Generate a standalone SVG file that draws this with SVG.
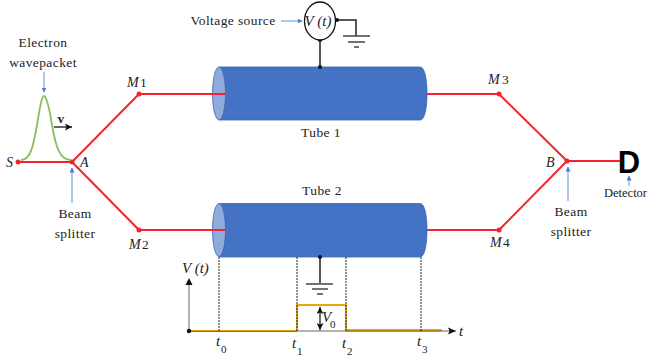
<svg xmlns="http://www.w3.org/2000/svg" width="651" height="364" viewBox="0 0 651 364">
<style>
text{font-family:"Liberation Serif","Times New Roman",serif;font-size:13.5px;fill:#222;letter-spacing:.4px}
.m{text-anchor:middle}
.i{font-style:italic;font-size:14px;letter-spacing:0}
.n{font-size:13.5px;letter-spacing:0}
.vt{font-style:italic;font-size:15px;letter-spacing:0}
.s{font-size:11px;letter-spacing:0}
.r{stroke:#f5222d;stroke-width:2;fill:none}
.d{fill:#f5222d}
.b{stroke:#222;stroke-width:1.5;fill:none}
.k{fill:#111}
.g{stroke:#444;stroke-width:1.3;fill:none}
.bl{stroke:#6f9bdc;stroke-width:1.100;fill:none}
.v{stroke:#222;stroke-width:1;stroke-dasharray:2 1;fill:none}
.body{fill:#4472c4;stroke:#3a64ad;stroke-width:.8}
.cap{fill:#8faadc;stroke:#3a64ad;stroke-width:.8}
</style>
<defs>
<marker id="ab" markerWidth="5" markerHeight="5" refX="4.500" refY="2.500" orient="auto" markerUnits="userSpaceOnUse"><path d="M0,0L5,2.500L0,5z" fill="#4a7ccf"/></marker>
<marker id="ak" markerWidth="8" markerHeight="7" refX="7" refY="3.500" orient="auto-start-reverse" markerUnits="userSpaceOnUse"><path d="M0,0L7,3.500L0,7L1.500,3.500z" fill="#111"/></marker>
</defs>
<g id="tube1"><path class="body" d="M219,67H420C425,67 427,80 427,93.500S425,120 420,120H219z"/><ellipse class="cap" cx="219" cy="93.500" rx="6.500" ry="26.500"/></g>
<g id="tube2"><path class="body" d="M219,203.500H420C425,203.500 427,217 427,230S425,257 420,257H219z"/><ellipse class="cap" cx="219" cy="230" rx="6.500" ry="26.500"/></g>
<g id="connectors">
<path class="r" d="M18,162H72L139,94H225M427,94H499L567,161L499,230H427M225,230H139L72,162M567,161H620"/>
<circle class="d" cx="18" cy="162" r="2.500"/><circle class="d" cx="72" cy="162" r="2.500"/><circle class="d" cx="139" cy="94" r="2.500"/><circle class="d" cx="139" cy="230" r="2.500"/><circle class="d" cx="499" cy="94" r="2.500"/><circle class="d" cx="499" cy="230" r="2.500"/><circle class="d" cx="567" cy="161" r="2.500"/>
<path d="M21,160C30,160 33,148 37,125C40,106 42,96 44,96C46,96 49,106 52,125C56,148 60,160 71,160" fill="none" stroke="#8dbb5f" stroke-width="1.800"/>
<path d="M54,127H72" stroke="#111" stroke-width="1.300" fill="none" marker-end="url(#ak)"/>
<path class="bl" d="M44,72V92" marker-end="url(#ab)"/>
<path class="bl" d="M72,203V168" marker-end="url(#ab)"/>
<path class="bl" d="M568,201V167" marker-end="url(#ab)"/>
<path class="bl" d="M629,186V176" marker-end="url(#ab)"/>
<path class="bl" d="M281,21H302" marker-end="url(#ab)"/>
<path class="b" d="M337,20H356V36M320,40V67"/>
<path class="g" d="M343,36H370M348,42H365M354,47H359"/>
<circle class="k" cx="337" cy="20" r="2"/><circle class="k" cx="320" cy="40" r="2"/><circle class="k" cx="320" cy="67" r="2"/>
<path class="b" d="M320,257V283"/><circle class="k" cx="320" cy="257" r="2"/>
<path class="g" d="M306,284H333M312,289H328M317,294H323"/>
<path d="M189,331H456" stroke="#999" stroke-width="1.500" fill="none"/>
<path d="M189,331V281" stroke="#999" stroke-width="1.500" fill="none"/>
<path d="M189,278l-3.500,7h7z" class="k"/>
<path d="M456,331l-8,-3.500l1.500,3.500l-1.500,3.500z" class="k"/>
<path d="M190,331H297V305H346V330H442" stroke="#e8a80c" stroke-width="2" fill="none"/>
<path d="M190,331.500H297M346,331H442" stroke="#8a6d1a" stroke-width="1" fill="none"/>
<path class="v" d="M219,257V331M297,257V331M346,257V331M421,257V331"/>
<circle class="k" cx="189" cy="331" r="2.200"/>
<path d="M320,307V330" stroke="#111" stroke-width="1.200" fill="none" marker-start="url(#ak)" marker-end="url(#ak)"/>
</g>
<g id="source"><ellipse cx="320" cy="21" rx="15.500" ry="19" fill="#fff" stroke="#111" stroke-width="1.300"/>
<text x="318" y="26" class="m vt">V (t)</text></g>
<g id="labels">
<text x="233" y="25" class="m">Voltage source</text>
<text x="43" y="47" class="m">Electron</text><text x="43" y="67" class="m">wavepacket</text>
<text x="61" y="123" class="m" style="font-weight:bold">v</text>
<text x="6" y="167" class="i">S</text><text x="80" y="167" class="i">A</text>
<text x="75" y="218" class="m">Beam</text><text x="75" y="238" class="m">splitter</text>
<text x="127" y="87" class="i">M</text><text x="140" y="87" class="n">1</text>
<text x="129" y="249" class="i">M</text><text x="142" y="249" class="n">2</text>
<text x="488" y="84" class="i">M</text><text x="502" y="84" class="n">3</text>
<text x="490" y="247" class="i">M</text><text x="503" y="247" class="n">4</text>
<text x="546" y="167" class="i">B</text>
<text x="321" y="137" class="m">Tube 1</text><text x="322" y="195" class="m">Tube 2</text>
<text x="571" y="216" class="m">Beam</text><text x="571" y="236" class="m">splitter</text>
<text x="604" y="197" style="font-size:12.500px;letter-spacing:0">Detector</text>
<text x="629" y="173" class="m" style="font-family:'Liberation Sans',sans-serif;font-weight:bold;font-size:31px;fill:#000;letter-spacing:0">D</text>
<text x="182" y="273" class="vt">V (t)</text>
<text x="322" y="322" class="vt">V</text><text x="330" y="328" class="s">0</text>
<text x="459" y="336" class="vt">t</text>
<text x="216" y="346" class="vt">t</text><text x="221" y="353" class="s">0</text>
<text x="292" y="348" class="vt">t</text><text x="297" y="355" class="s">1</text>
<text x="342" y="348" class="vt">t</text><text x="347" y="355" class="s">2</text>
<text x="417" y="346" class="vt">t</text><text x="422" y="353" class="s">3</text>
</g>
</svg>
